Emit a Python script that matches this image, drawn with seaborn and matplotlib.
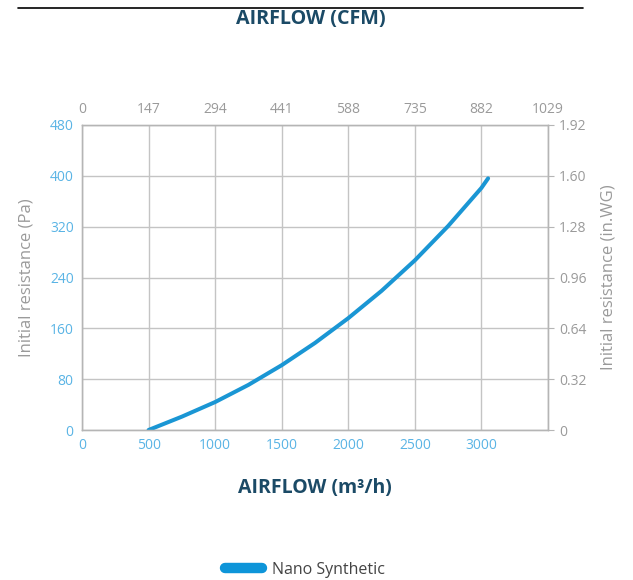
import numpy as np
import pandas as pd
import seaborn as sns
import matplotlib.pyplot as plt
from matplotlib.lines import Line2D

sns.set_style("white")
plt.rcParams['font.family'] = ['Open Sans', 'DejaVu Sans']

# data
airflow_m3h = [500, 750, 1000, 1250, 1500, 1750, 2000, 2250, 2500, 2750, 3000, 3050]
resistance_pa = [0, 21, 44, 71, 102, 137, 176, 219, 267, 321, 381, 396]
series_name = "Nano Synthetic"

x_ticks = [0, 500, 1000, 1500, 2000, 2500, 3000, 3500]
x_labels = ["0", "500", "1000", "1500", "2000", "2500", "3000", ""]
cfm_labels = ["0", "147", "294", "441", "588", "735", "882", "1029"]
y_ticks = [0, 80, 160, 240, 320, 400, 480]
wg_ticks = [0, 0.32, 0.64, 0.96, 1.28, 1.60, 1.92]
wg_labels = ["0", "0.32", "0.64", "0.96", "1.28", "1.60", "1.92"]

df = pd.DataFrame({"airflow": airflow_m3h, "pa": resistance_pa, "name": series_name})

blue = "#1a96d4"
tick_blue = "#5ab4e5"
grey = "#9a9a9a"
frame = "#b5b5b5"
dark = "#1b4a66"

fig = plt.figure(figsize=(6.33, 5.80), dpi=100)
ax = fig.add_axes([82 / 633, 150 / 580, 466 / 633, 305 / 580])

sns.lineplot(data=df, x="airflow", y="pa", color=blue, lw=2.9, ax=ax,
             legend=False, solid_capstyle="round", solid_joinstyle="round")

ax.set_xlim(0, 3500)
ax.set_ylim(0, 480)
ax.set_xticks(x_ticks)
ax.set_xticklabels(x_labels)
ax.set_yticks(y_ticks)
ax.grid(True, color="#c4c4c4", lw=1)
ax.tick_params(axis="both", length=0, labelsize=10, colors=tick_blue, pad=6)
for s in ax.spines.values():
    s.set_color(frame)
    s.set_linewidth(1)
ax.set_xlabel("AIRFLOW (m³/h)", fontsize=14, fontweight="bold", color=dark, labelpad=18)
ax.set_ylabel("Initial resistance (Pa)", fontsize=12, color=grey, labelpad=11)

# top CFM axis
axt = ax.twiny()
axt.set_xlim(ax.get_xlim())
axt.set_xticks(x_ticks)
axt.set_xticklabels(cfm_labels)
axt.tick_params(axis="x", length=0, labelsize=10, colors=grey, pad=6)

# right in.WG axis
axr = ax.twinx()
axr.set_ylim(0, 1.92)
axr.set_yticks(wg_ticks)
axr.set_yticklabels(wg_labels)
axr.tick_params(axis="y", length=4, color=frame, labelsize=10, colors=grey, pad=4)
axr.set_ylabel("Initial resistance (in.WG)", fontsize=12, color=grey, labelpad=10)
for a in (axt, axr):
    for s in a.spines.values():
        s.set_color(frame)

# header line and title
fig.add_artist(Line2D([18 / 633, 583 / 633], [1 - 8 / 580, 1 - 8 / 580], color="black", lw=1.2))
fig.text(311 / 633, 1 - 19 / 580, "AIRFLOW (CFM)", ha="center", va="center",
         fontsize=14.2, fontweight="bold", color=dark)

handle = Line2D([0], [0], color="#0e95d9", lw=7.5, solid_capstyle="round")
fig.legend([handle], [series_name], loc="center", bbox_to_anchor=(305 / 633, 1 - 570 / 580),
           frameon=False, fontsize=11.5, handlelength=2.3, handletextpad=0.6,
           labelcolor="#444444")

fig.savefig("out.png", dpi=100)
